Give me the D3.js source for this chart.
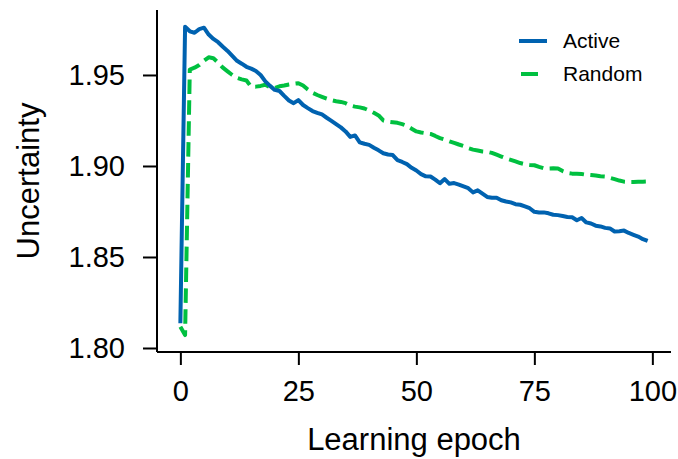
<!DOCTYPE html>
<html>
<head>
<meta charset="utf-8">
<script src="https://cdn.jsdelivr.net/npm/d3@7"></script>
<style>
  html, body { margin: 0; padding: 0; background: #fff; }
  svg text { font-family: "Liberation Sans", Arial, Helvetica, sans-serif; fill: #000; }
</style>
</head>
<body>
<div id="chart"></div>
<script>
// Mean predictive uncertainty per learning epoch, active vs random sampling
const epochs = d3.range(0, 100);

const activeValues = [
  1.8136, 1.9765, 1.9740, 1.9732, 1.9752, 1.9760, 1.9722, 1.9698, 1.9680, 1.9655,
  1.9632, 1.9605, 1.9578, 1.9562, 1.9545, 1.9535, 1.9522, 1.9500, 1.9465, 1.9440,
  1.9418, 1.9412, 1.9385, 1.9360, 1.9345, 1.9362, 1.9335, 1.9318, 1.9302, 1.9292,
  1.9283, 1.9265, 1.9248, 1.9230, 1.9212, 1.9190, 1.9160, 1.9168, 1.9130, 1.9122,
  1.9116, 1.9100, 1.9086, 1.9070, 1.9063, 1.9060, 1.9032, 1.9022, 1.9010, 1.8990,
  1.8975, 1.8955, 1.8943, 1.8942, 1.8925, 1.8905, 1.8928, 1.8902, 1.8906, 1.8898,
  1.8888, 1.8878, 1.8855, 1.8866, 1.8848, 1.8830, 1.8825, 1.8826, 1.8812, 1.8805,
  1.8800, 1.8790, 1.8787, 1.8778, 1.8768, 1.8748, 1.8744, 1.8745, 1.8740, 1.8732,
  1.8730, 1.8725, 1.8720, 1.8718, 1.8702, 1.8714, 1.8690, 1.8684, 1.8672, 1.8668,
  1.8660, 1.8657, 1.8640, 1.8642, 1.8645, 1.8632, 1.8622, 1.8612, 1.8598, 1.8588
];

const randomValues = [
  1.8117, 1.8071, 1.9530, 1.9540, 1.9555, 1.9578, 1.9597, 1.9592, 1.9568, 1.9540,
  1.9520, 1.9500, 1.9484, 1.9476, 1.9470, 1.9435, 1.9436, 1.9440, 1.9446, 1.9432,
  1.9428, 1.9438, 1.9442, 1.9448, 1.9452, 1.9455, 1.9442, 1.9420, 1.9402, 1.9390,
  1.9380, 1.9370, 1.9362, 1.9356, 1.9352, 1.9345, 1.9332, 1.9326, 1.9322, 1.9316,
  1.9305, 1.9292, 1.9278, 1.9250, 1.9243, 1.9240, 1.9237, 1.9230, 1.9220, 1.9205,
  1.9190, 1.9184, 1.9180, 1.9176, 1.9165, 1.9153, 1.9145, 1.9135, 1.9127, 1.9118,
  1.9110, 1.9098, 1.9090, 1.9085, 1.9080, 1.9078, 1.9072, 1.9062, 1.9052, 1.9042,
  1.9034, 1.9025, 1.9016, 1.9010, 1.9006, 1.9004, 1.8995, 1.8987, 1.8986, 1.8987,
  1.8986, 1.8972, 1.8962, 1.8958, 1.8957, 1.8956, 1.8952, 1.8950, 1.8948, 1.8944,
  1.8942, 1.8935, 1.8928, 1.8920, 1.8914, 1.8912, 1.8912, 1.8913, 1.8914, 1.8915
];

const xTicks = [0, 25, 50, 75, 100];
const yTicks = [1.80, 1.85, 1.90, 1.95];
const seriesNames = ["Active", "Random"];
const seriesColors = ["#0062b0", "#00c040"];

const W = 678, H = 459;
const plot = { left: 157, right: 671, top: 10, bottom: 352 };
const lineWidth = 4;
const dashPattern = "14.5,6.4";

const svg = d3.select("#chart").append("svg")
  .attr("width", W).attr("height", H);

const x = d3.scaleLinear().domain([-4.95, 103.95]).range([plot.left, plot.right]);
const y = d3.scaleLinear().domain([1.7978, 1.9857]).range([plot.bottom, plot.top]);

// Axes with long outward ticks, no opposite spines
const xAxis = d3.axisBottom(x).tickValues(xTicks).tickSize(13).tickPadding(15)
  .tickFormat(d3.format("d"));
const yAxis = d3.axisLeft(y).tickValues(yTicks).tickSize(14).tickPadding(18)
  .tickFormat(d3.format(".2f"));

const gx = svg.append("g").attr("transform", `translate(0,${plot.bottom})`).call(xAxis);
const gy = svg.append("g").attr("transform", `translate(${plot.left},0)`).call(yAxis);

[gx, gy].forEach(g => {
  g.select(".domain").attr("stroke", "#000").attr("stroke-width", 2);
  g.selectAll(".tick line").attr("stroke", "#000").attr("stroke-width", 2);
  g.selectAll(".tick text").attr("font-size", 29).attr("fill", "#000")
    .style("font-family", "'Liberation Sans', Arial, sans-serif");
});
// Trim the axis paths to plain spines (no end caps)
gx.select(".domain").attr("d", `M${plot.left},0H${plot.right}`);
gy.select(".domain").attr("d", `M0,${plot.top}V${plot.bottom}`);

// Axis titles
svg.append("text")
  .attr("x", (plot.left + plot.right) / 2)
  .attr("y", 450)
  .attr("text-anchor", "middle")
  .attr("font-size", 31)
  .text("Learning epoch");

svg.append("text")
  .attr("transform", `translate(39,${(plot.top + plot.bottom) / 2}) rotate(-90)`)
  .attr("text-anchor", "middle")
  .attr("font-size", 31)
  .text("Uncertainty");

// Series lines
const line = d3.line().x((d, i) => x(epochs[i])).y(d => y(d));

svg.append("path")
  .datum(randomValues)
  .attr("fill", "none")
  .attr("stroke", seriesColors[1])
  .attr("stroke-width", lineWidth)
  .attr("stroke-dasharray", dashPattern)
  .attr("stroke-linejoin", "round")
  .attr("d", line);

svg.append("path")
  .datum(activeValues)
  .attr("fill", "none")
  .attr("stroke", seriesColors[0])
  .attr("stroke-width", lineWidth)
  .attr("stroke-linejoin", "round")
  .attr("d", line);

// Legend: solid handle for Active, a single dash for Random
const legend = svg.append("g");
const legendRows = [
  { name: seriesNames[0], color: seriesColors[0], x1: 519, x2: 547, y: 41 },
  { name: seriesNames[1], color: seriesColors[1], x1: 521, x2: 538, y: 74 }
];
legendRows.forEach(r => {
  legend.append("line")
    .attr("x1", r.x1).attr("x2", r.x2)
    .attr("y1", r.y).attr("y2", r.y)
    .attr("stroke", r.color).attr("stroke-width", lineWidth);
  legend.append("text")
    .attr("x", 563).attr("y", r.y)
    .attr("dy", "0.35em")
    .attr("font-size", 21)
    .text(r.name);
});
</script>
</body>
</html>
